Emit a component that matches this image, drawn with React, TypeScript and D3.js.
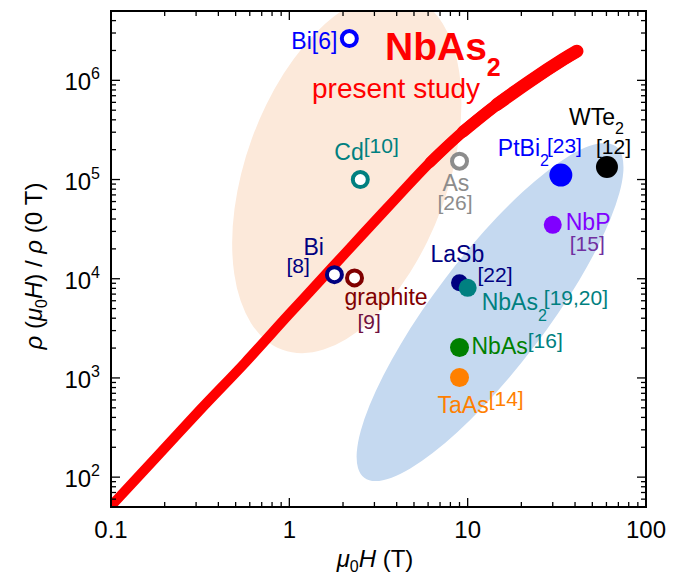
import React from "react";
import * as d3 from "d3";

// ---------- data ----------
// NbAs2 magnetoresistance curve (present study)
const fieldT = [0.1, 0.1765, 0.3155, 0.564, 1.0, 1.758, 2.588, 4.016, 6.15, 9.42, 14.6, 22.4, 34.2, 41.0];
const mrRatio = [51.2, 154, 475, 1421, 4413, 13285, 28250, 66070, 148900, 303600, 570900, 982500, 1.618e6, 1.967e6];

// literature reference points
const refNames = ["Bi[6]", "Cd[10]", "As[26]", "Bi[8]", "graphite[9]", "PtBi2[23]", "WTe2[12]", "NbP[15]", "LaSb[22]", "NbAs2[19,20]", "NbAs[16]", "TaAs[14]"];
const refFieldT = [2.17, 2.5, 9.0, 1.79, 2.32, 33.3, 60.4, 30, 9.0, 10, 9.0, 9.0];
const refMR = [2.64e6, 1.0e5, 1.53e5, 1.1e4, 1.02e4, 1.11e5, 1.34e5, 3.5e4, 9.1e3, 8.1e3, 2.03e3, 1.01e3];
const refFilled = [false, false, false, false, false, true, true, true, true, true, true, true];

// axes
const xTickLabels = ["0.1", "1", "10", "100"];
const xTickValues = [0.1, 1, 10, 100];
const yTickExponents = [2, 3, 4, 5, 6];

// ellipse centres (data coordinates)
const peachCenter = [2.1, 1.16e5];
const blueCenter = [13.35, 4.62e3];

// ---------- styles / layout ----------
const FONT = "'Liberation Sans', Arial, Helvetica, sans-serif";
const W = 684, H = 578;
const plot = { left: 111, right: 646, top: 11, bottom: 507 };

const C = {
  blue: "#0000ff", teal: "#008080", gray: "#8c8c8c", navy: "#000080", maroon: "#800000",
  plum: "#701040", black: "#000000", purple: "#8000ff", purple2: "#7030a0", green: "#008000",
  orange: "#ff8000", red: "#ff0000",
};

const markerStyle: Record<string, { color: string; r: number }> = {
  "Bi[6]": { color: C.blue, r: 7.5 },
  "Cd[10]": { color: C.teal, r: 7.5 },
  "As[26]": { color: C.gray, r: 7.5 },
  "Bi[8]": { color: C.navy, r: 7.5 },
  "graphite[9]": { color: C.maroon, r: 7.5 },
  "PtBi2[23]": { color: C.blue, r: 11.5 },
  "WTe2[12]": { color: C.black, r: 11 },
  "NbP[15]": { color: C.purple, r: 9 },
  "LaSb[22]": { color: C.navy, r: 8.5 },
  "NbAs2[19,20]": { color: C.teal, r: 9 },
  "NbAs[16]": { color: C.green, r: 9.5 },
  "TaAs[14]": { color: C.orange, r: 9.5 },
};

type Part = { t: string; s: number; c: string; dx?: number; dy?: number };
type Lbl = { dx: number; dy: number; parts: Part[] };

const labelLayout: Record<string, Lbl[]> = {
  "Bi[6]": [{ dx: -58, dy: 10, parts: [{ t: "Bi[6]", s: 23, c: C.blue }] }],
  "Cd[10]": [{ dx: -26, dy: -20, parts: [{ t: "Cd", s: 23, c: C.teal }, { t: "[10]", s: 21, c: C.teal, dy: -7 }] }],
  "As[26]": [
    { dx: -17, dy: 30, parts: [{ t: "As", s: 23, c: C.gray }] },
    { dx: -22, dy: 49, parts: [{ t: "[26]", s: 21, c: C.gray }] },
  ],
  "Bi[8]": [
    { dx: -31, dy: -20, parts: [{ t: "Bi", s: 23, c: C.navy }] },
    { dx: -48, dy: -2, parts: [{ t: "[8]", s: 21, c: C.navy }] },
  ],
  "graphite[9]": [
    { dx: -10, dy: 27, parts: [{ t: "graphite", s: 23, c: C.maroon }] },
    { dx: 3, dy: 51, parts: [{ t: "[9]", s: 21, c: C.plum }] },
  ],
  "PtBi2[23]": [
    { dx: -63, dy: -19, parts: [
      { t: "PtBi", s: 23, c: C.blue },
      { t: "2", s: 16, c: C.blue, dy: 10 },
      { t: "[23]", s: 21, c: C.blue, dy: -13, dx: -2 },
    ] },
  ],
  "WTe2[12]": [
    { dx: -38, dy: -42, parts: [{ t: "WTe", s: 23, c: C.black }, { t: "2", s: 16, c: C.black, dy: 9 }] },
    { dx: -11, dy: -13, parts: [{ t: "[12]", s: 21, c: C.black }] },
  ],
  "NbP[15]": [
    { dx: 13, dy: 5, parts: [{ t: "NbP", s: 23, c: C.purple }] },
    { dx: 17, dy: 26, parts: [{ t: "[15]", s: 21, c: C.purple2 }] },
  ],
  "LaSb[22]": [
    { dx: -29, dy: -21, parts: [{ t: "LaSb", s: 23, c: C.navy }] },
    { dx: 18, dy: -1, parts: [{ t: "[22]", s: 21, c: C.navy }] },
  ],
  "NbAs2[19,20]": [
    { dx: 14, dy: 22, parts: [
      { t: "NbAs", s: 23, c: C.teal },
      { t: "2", s: 16, c: C.teal, dy: 11 },
      { t: "[19,20]", s: 21, c: C.teal, dy: -16, dx: -3 },
    ] },
  ],
  "NbAs[16]": [
    { dx: 12, dy: 7, parts: [{ t: "NbAs", s: 23, c: C.green }, { t: "[16]", s: 21, c: C.teal, dy: -6 }] },
  ],
  "TaAs[14]": [
    { dx: -22, dy: 35, parts: [{ t: "TaAs", s: 23, c: C.orange }, { t: "[14]", s: 21, c: C.orange, dy: -7 }] },
  ],
};

// stroke width of the measured curve grows slightly where the data get noisier
const bandSteps = [
  { from: 0, w: 10 },
  { from: 9, w: 11 },
  { from: 14, w: 12 },
  { from: 22, w: 13 },
];

export default function App() {
  const x = d3.scaleLog().domain([0.1, 100]).range([plot.left, plot.right]);
  const y = d3.scaleLog().domain([50, 5e6]).range([plot.bottom, plot.top]);

  const pts: [number, number][] = fieldT.map((f, i) => [x(f), y(mrRatio[i])]);
  const line = d3.line().curve(d3.curveCatmullRom.alpha(0.5));

  const xt = x.ticks();
  const yt = y.ticks();
  const isMajor = (v: number) => Math.abs(Math.log10(v) - Math.round(Math.log10(v))) < 1e-6;
  const MAJ = 9, MIN = 5;

  const pcx = x(peachCenter[0]), pcy = y(peachCenter[1]);
  const bcx = x(blueCenter[0]), bcy = y(blueCenter[1]);

  return (
    <svg width={W} height={H} style={{ position: "absolute", left: 0, top: 0, background: "#fff" }} fontFamily={FONT}>
      <defs>
        <clipPath id="plotClip">
          <rect x={plot.left} y={plot.top} width={plot.right - plot.left} height={plot.bottom - plot.top} />
        </clipPath>
      </defs>
      <rect x={0} y={0} width={W} height={H} fill="#fff" />

      <g clipPath="url(#plotClip)">
        <ellipse cx={pcx} cy={pcy} rx={101} ry={188} fill="#fce9da" transform={`rotate(20, ${pcx}, ${pcy})`} />
        <ellipse cx={bcx} cy={bcy} rx={208} ry={56} fill="#c5d9f0" transform={`rotate(-52.8, ${bcx}, ${bcy})`} />
        {bandSteps.map((b, k) => {
          const sub = pts.filter((_, i) => fieldT[i] >= b.from);
          const prev = pts.filter((_, i) => fieldT[i] < b.from);
          const seg = prev.length ? [prev[prev.length - 1], ...sub] : sub;
          return (
            <path key={k} d={line(k === 0 ? pts : seg) || ""} fill="none" stroke={C.red}
              strokeWidth={b.w} strokeLinecap="round" strokeLinejoin="round" />
          );
        })}
      </g>

      {/* reference markers */}
      {refNames.map((n, i) => {
        const st = markerStyle[n];
        const cx = x(refFieldT[i]), cy = y(refMR[i]);
        return refFilled[i] ? (
          <circle key={n} cx={cx} cy={cy} r={st.r} fill={st.color} />
        ) : (
          <circle key={n} cx={cx} cy={cy} r={st.r} fill="#fff" stroke={st.color} strokeWidth={4} />
        );
      })}

      {/* reference labels */}
      {refNames.map((n, i) => {
        const cx = x(refFieldT[i]), cy = y(refMR[i]);
        return (labelLayout[n] || []).map((l, j) => (
          <text key={n + j} x={cx + l.dx} y={cy + l.dy}>
            {l.parts.map((p, k) => (
              <tspan key={k} fontSize={p.s} fill={p.c} dy={p.dy || 0} dx={p.dx || 0}>{p.t}</tspan>
            ))}
          </text>
        ));
      })}

      {/* NbAs2 title */}
      <text x={385} y={60} fill={C.red} fontWeight="bold" fontSize={39}>
        NbAs<tspan fontSize={25} dy={16}>2</tspan>
      </text>
      <text x={312} y={98} fill={C.red} fontSize={28}>present study</text>

      {/* ticks */}
      <g stroke="#000" strokeWidth={1.3}>
        {xt.map((v, i) => {
          const px = x(v);
          const len = isMajor(v) ? MAJ : MIN;
          return (
            <g key={"x" + i}>
              <line x1={px} x2={px} y1={plot.bottom} y2={plot.bottom - len} />
              <line x1={px} x2={px} y1={plot.top} y2={plot.top + len} />
            </g>
          );
        })}
        {yt.map((v, i) => {
          const py = y(v);
          const len = isMajor(v) ? MAJ : MIN;
          return (
            <g key={"y" + i}>
              <line y1={py} y2={py} x1={plot.left} x2={plot.left + len} />
              <line y1={py} y2={py} x1={plot.right} x2={plot.right - len} />
            </g>
          );
        })}
      </g>
      <rect x={plot.left} y={plot.top} width={plot.right - plot.left} height={plot.bottom - plot.top} fill="none" stroke="#000" strokeWidth={2} />

      {/* tick labels */}
      {xTickValues.map((v, i) => (
        <text key={"xl" + i} x={x(v)} y={538} textAnchor="middle" fontSize={24} fill="#000">{xTickLabels[i]}</text>
      ))}
      {yTickExponents.map((e) => (
        <text key={"yl" + e} x={100} y={y(Math.pow(10, e)) + 10} textAnchor="end" fontSize={24} fill="#000">
          10<tspan fontSize={16} dy={-11}>{e}</tspan>
        </text>
      ))}

      {/* axis titles */}
      <text x={375} y={567} textAnchor="middle" fontSize={24} fill="#000">
        <tspan fontStyle="italic">μ</tspan>
        <tspan fontSize={16} dy={5}>0</tspan>
        <tspan fontStyle="italic" dy={-5}>H</tspan> (T)
      </text>
      <text transform="translate(42, 266) rotate(-90)" textAnchor="middle" fontSize={24} fill="#000">
        <tspan fontStyle="italic">ρ</tspan> (<tspan fontStyle="italic">μ</tspan>
        <tspan fontSize={16} dy={5}>0</tspan>
        <tspan fontStyle="italic" dy={-5}>H</tspan>) / <tspan fontStyle="italic">ρ</tspan> (0 T)
      </text>
    </svg>
  );
}
